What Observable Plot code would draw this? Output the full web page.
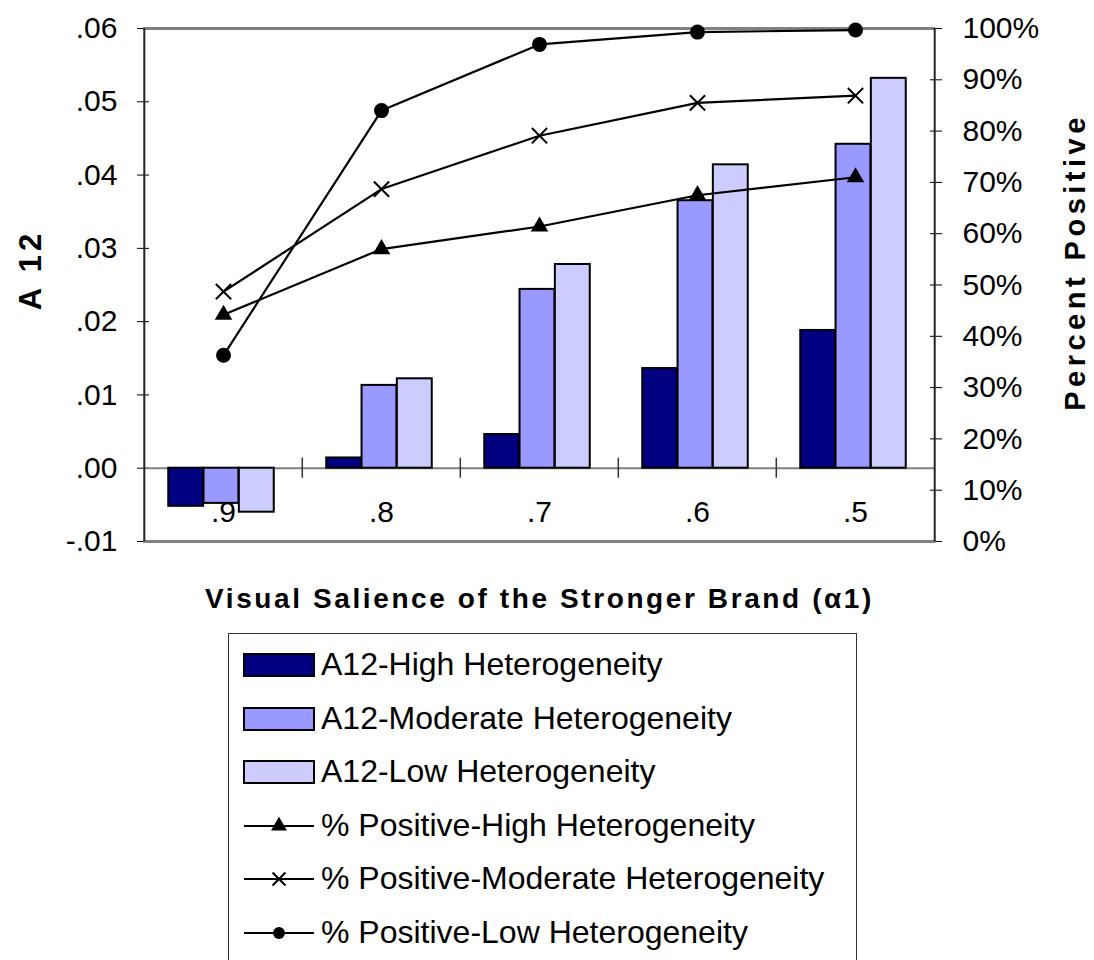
<!DOCTYPE html>
<html>
<head>
<meta charset="utf-8">
<script src="https://cdn.jsdelivr.net/npm/d3@7"></script>
<script src="https://cdn.jsdelivr.net/npm/@observablehq/plot@0.6"></script>
<style>
  html, body { margin: 0; padding: 0; background: #fff; }
  body { width: 1094px; height: 960px; overflow: hidden; position: relative; font-family: "Liberation Sans", Arial, sans-serif; }
  #chart { position: absolute; left: 0; top: 0; }
  #legend { position: absolute; left: 228px; top: 633px; width: 629px; height: 360px; border: 1.5px solid #333; box-sizing: border-box; background: #fff; }
  .row { position: absolute; left: 0; height: 54px; width: 100%; }
  .row svg { position: absolute; left: 14px; top: 14px; }
  .row span { position: absolute; left: 92px; top: 9px; font-size: 32px; line-height: 36px; color: #000; white-space: nowrap; }
</style>
</head>
<body>
<div id="chart"></div>
<div id="legend"></div>
<script>
// ---- data ----
const categories = [".9", ".8", ".7", ".6", ".5"];
const seriesNames = ["High", "Moderate", "Low"];
const a12High     = [-0.0052, 0.0014, 0.0046, 0.0136, 0.0188];
const a12Moderate = [-0.0048, 0.0113, 0.0244, 0.0365, 0.0442];
const a12Low      = [-0.0060, 0.0122, 0.0278, 0.0414, 0.0532];
const pctHigh     = [44.2, 57.0, 61.4, 67.5, 71.0];
const pctModerate = [48.7, 68.7, 79.1, 85.5, 86.9];
const pctLow      = [36.3, 84.0, 96.9, 99.3, 99.7];
const leftTicks  = [-0.01, 0, 0.01, 0.02, 0.03, 0.04, 0.05, 0.06];
const rightTicks = [0, 10, 20, 30, 40, 50, 60, 70, 80, 90, 100];
const legendLabels = [
  "A12-High Heterogeneity",
  "A12-Moderate Heterogeneity",
  "A12-Low Heterogeneity",
  "% Positive-High Heterogeneity",
  "% Positive-Moderate Heterogeneity",
  "% Positive-Low Heterogeneity"
];
const xTitle = "Visual Salience of the Stronger Brand (\u03b11)";
const yTitle = "A 12";
const y2Title = "Percent Positive";

// ---- styling ----
const barColors = {High: "#000080", Moderate: "#9999FF", Low: "#CCCCFF"};
const symbols = {High: "triangle", Moderate: "times", Low: "circle"};

const W = 1094, H = 625;
const mL = 143, mR = 159, mT = 28, mB = 84;
const yMin = -0.01, yMax = 0.06;
const toY = p => yMin + (p / 100) * (yMax - yMin); // right axis mapping
const bw = (W - mL - mR) / categories.length;
const barW = 35.3;

const a12 = {High: a12High, Moderate: a12Moderate, Low: a12Low};
const pct = {High: pctHigh, Moderate: pctModerate, Low: pctLow};

const bars = seriesNames.flatMap(s => categories.map((c, i) => ({cat: c, series: s, value: a12[s][i]})));
const pts = seriesNames.flatMap(s => categories.map((c, i) => ({cat: c, series: s, p: pct[s][i]})));

const barMarks = seriesNames.map((s, k) => {
  const left = (bw - 3 * barW) / 2 + k * barW - 2;
  return Plot.barY(bars.filter(d => d.series === s), {
    x: "cat", y1: 0, y2: "value",
    fill: barColors[s], stroke: "#000", strokeWidth: 2,
    insetLeft: left, insetRight: bw - left - barW
  });
});

const lineMarks = seriesNames.flatMap(s => {
  const d = pts.filter(e => e.series === s);
  const sym = symbols[s];
  return [
    Plot.line(d, {x: "cat", y: e => toY(e.p), stroke: "#000", strokeWidth: 2.2}),
    sym === "times"
      ? Plot.dot(d, {x: "cat", y: e => toY(e.p), symbol: "times", r: 7, stroke: "#000", strokeWidth: 2, fill: "none"})
      : Plot.dot(d, {x: "cat", y: e => toY(e.p), symbol: sym, r: sym === "circle" ? 7.5 : 6.5, fill: "#000", stroke: "none"})
  ];
});

const fmtLeft = v => {
  const s = d3.format(".2f")(v).replace("\u2212", "-");
  return s.replace(/^(-?)0\./, "$1.");
};

const chart = Plot.plot({
  width: W, height: H,
  marginLeft: mL, marginRight: mR, marginTop: mT, marginBottom: mB,
  style: {fontFamily: "'Liberation Sans', Arial, sans-serif", fontSize: "30px", color: "#000", background: "#fff"},
  x: {type: "band", domain: categories, padding: 0, label: null},
  y: {domain: [yMin, yMax], nice: false, label: null},
  marks: [
    // category labels near the zero line (inside frame)
    Plot.axisX({anchor: "bottom", tickSize: 0, tickPadding: 0, dy: -41, fontSize: 30, label: null}),
    // left axis
    Plot.axisY({anchor: "left", ticks: leftTicks, tickFormat: fmtLeft, tickSize: 12, dx: 6, tickPadding: 20, fontSize: 30, label: null, stroke: "#000"}),
    // right axis (percent)
    Plot.axisY({anchor: "right", ticks: rightTicks.map(toY), tickFormat: v => Math.round((v - yMin) / (yMax - yMin) * 100) + "%", tickSize: 12, dx: -6, tickPadding: 21, fontSize: 30, label: null, stroke: "#000"}),
    // gray top / bottom / zero lines
    Plot.ruleY([yMin, yMax], {stroke: "#808080", strokeWidth: 3}),
    Plot.ruleY([0], {stroke: "#808080", strokeWidth: 2}),
    // category tick marks on the zero line
    Plot.ruleX(categories.slice(1), {x: d => d, y1: 0, y2: 0, insetTop: -10, insetBottom: -10, dx: -bw / 2, stroke: "#333", strokeWidth: 1.5}),
    ...barMarks,
    // left/right axis lines
    Plot.ruleX([categories[0]], {dx: -bw / 2, stroke: "#222", strokeWidth: 2}),
    Plot.ruleX([categories[categories.length - 1]], {dx: bw / 2, stroke: "#222", strokeWidth: 2}),
    ...lineMarks,
    // titles
    Plot.text([yTitle], {frameAnchor: "left", textAnchor: "middle", dx: -112, dy: -15, rotate: -90, fontSize: 31, fontWeight: "bold"}),
    Plot.text([y2Title], {frameAnchor: "right", textAnchor: "middle", dx: 140, dy: -23, rotate: -90, fontSize: 29, fontWeight: "bold"}),
    Plot.text([xTitle], {frameAnchor: "bottom", textAnchor: "middle", dy: 66, fontSize: 28, fontWeight: "bold"})
  ]
});
document.getElementById("chart").appendChild(chart);

// letter spacing for bold titles (as in the reference)
chart.querySelectorAll("text").forEach(t => {
  if (t.textContent === xTitle) t.setAttribute("letter-spacing", "2.6");
  if (t.textContent === y2Title) t.setAttribute("letter-spacing", "4.5");
  if (t.textContent === yTitle) t.setAttribute("letter-spacing", "4");
});

// ---- legend ----
const legend = document.getElementById("legend");
const swatchKinds = [
  {type: "bar", s: "High"}, {type: "bar", s: "Moderate"}, {type: "bar", s: "Low"},
  {type: "line", s: "High"}, {type: "line", s: "Moderate"}, {type: "line", s: "Low"}
];
legendLabels.forEach((label, i) => {
  const row = document.createElement("div");
  row.className = "row";
  row.style.top = (i * 53.6 + 3) + "px";
  const kind = swatchKinds[i];
  const svg = d3.create("svg").attr("width", 74).attr("height", 26);
  if (kind.type === "bar") {
    svg.append("rect").attr("x", 1).attr("y", 3).attr("width", 70).attr("height", 22)
      .attr("fill", barColors[kind.s]).attr("stroke", "#000").attr("stroke-width", 2);
  } else {
    svg.append("line").attr("x1", 1).attr("x2", 71).attr("y1", 14).attr("y2", 14).attr("stroke", "#000").attr("stroke-width", 2);
    const sym = kind.s === "High" ? d3.symbolTriangle : kind.s === "Moderate" ? d3.symbolTimes : d3.symbolCircle;
    const p = svg.append("path").attr("transform", "translate(36,14)").attr("d", d3.symbol(sym, 110)());
    if (kind.s === "Moderate") p.attr("fill", "none").attr("stroke", "#000").attr("stroke-width", 2);
    else p.attr("fill", "#000");
  }
  row.appendChild(svg.node());
  const span = document.createElement("span");
  span.textContent = label;
  row.appendChild(span);
  legend.appendChild(row);
});
</script>
</body>
</html>
